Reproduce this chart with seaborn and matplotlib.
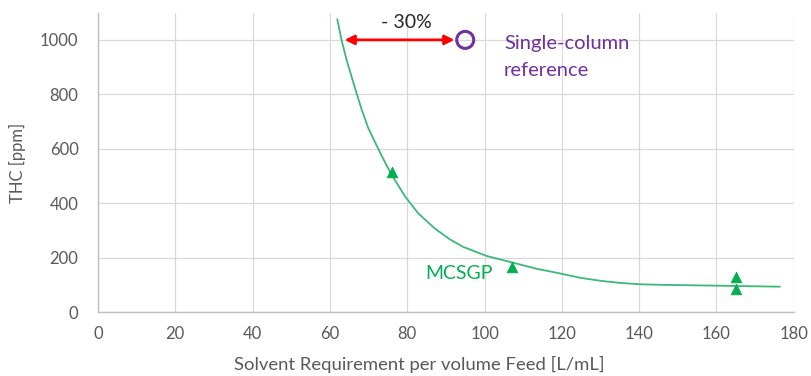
import matplotlib
matplotlib.use("Agg")
import matplotlib.pyplot as plt
import seaborn as sns
import pandas as pd

# MCSGP measurements: solvent requirement [L/mL] vs THC [ppm]
mcsgp_solvent = [76, 107, 165, 165]
mcsgp_thc = [515, 167, 128, 84]

# Trend curve through the MCSGP runs
curve_solvent = [61.9, 63.0, 64.3, 65.6, 66.9, 68.2, 69.9, 72.5, 74.7, 76.4,
                 79.4, 82.8, 87.1, 91.0, 94.5, 100.5, 107.4, 113.4, 119.4,
                 124.6, 129.8, 134.9, 140.2, 145.3, 159.0, 176.4]
curve_thc = [1076, 1000, 927, 865, 804, 745, 677, 600, 538, 495,
             426, 364, 308, 268, 240, 207, 182, 160, 143,
             127, 116, 108, 103, 101, 98, 94]

# Single-column reference run
ref_solvent = [95]
ref_thc = [1000]

x_ticks = [0, 20, 40, 60, 80, 100, 120, 140, 160, 180]
y_ticks = [0, 200, 400, 600, 800, 1000]

GREEN = "#00B050"
CURVE = "#3CB878"
PURPLE = "#7030A0"
TEXT = "#595959"
GRID = "#D9D9D9"

sns.set_theme(style="whitegrid")
plt.rcParams["font.family"] = ["Lato", "DejaVu Sans"]

fig = plt.figure(figsize=(8.11, 3.76), dpi=100)
ax = fig.add_axes([0.1208, 0.1694, 0.858, 0.797])

curve_df = pd.DataFrame({"x": curve_solvent, "y": curve_thc})
sns.lineplot(data=curve_df, x="x", y="y", sort=False, ax=ax,
             color=CURVE, linewidth=1.3, zorder=2)

pts_df = pd.DataFrame({"x": mcsgp_solvent, "y": mcsgp_thc})
sns.scatterplot(data=pts_df, x="x", y="y", ax=ax, marker="^", s=60,
                color=GREEN, edgecolor=GREEN, linewidth=0.5, zorder=3)

ref_df = pd.DataFrame({"x": ref_solvent, "y": ref_thc})
sns.scatterplot(data=ref_df, x="x", y="y", ax=ax, marker="o", s=150,
                facecolor="none", edgecolor=PURPLE, linewidth=2.2, zorder=3)

# Solvent saving arrow between the curve and the reference run
ax.annotate("", xy=(63.8, ref_thc[0]), xytext=(92.2, ref_thc[0]),
            arrowprops=dict(arrowstyle="<|-|>", color="#FF0000", lw=2,
                            mutation_scale=14, shrinkA=0, shrinkB=0),
            zorder=4)
ax.text(79.8, 1065, "- 30%", ha="center", va="center", fontsize=14,
        color="#262626")
ax.text(105, 988, "Single-column", ha="left", va="center", fontsize=14.5,
        color=PURPLE)
ax.text(105, 888, "reference", ha="left", va="center", fontsize=14.5,
        color=PURPLE)
ax.text(84.6, 142, "MCSGP", ha="left", va="center", fontsize=14,
        color=GREEN)

ax.set_xlim(0, 180)
ax.set_ylim(0, 1100)
ax.set_xticks(x_ticks)
ax.set_yticks(y_ticks)
ax.set_xticklabels([str(v) for v in x_ticks])
ax.set_yticklabels([str(v) for v in y_ticks])
ax.tick_params(axis="both", length=0, labelsize=12, colors=TEXT, pad=10)
ax.tick_params(axis="y", pad=14)

ax.set_xlabel("Solvent Requirement per volume Feed [L/mL]", fontsize=13.3,
              color=TEXT)
ax.xaxis.set_label_coords(0.462, -0.145)
ax.set_ylabel("THC [ppm]", fontsize=12, color=TEXT, labelpad=10)

ax.grid(True, color=GRID, linewidth=0.9)
ax.set_axisbelow(True)
for side in ["top", "right"]:
    ax.spines[side].set_visible(False)
for side in ["left", "bottom"]:
    ax.spines[side].set_visible(True)
    ax.spines[side].set_color("#BFBFBF")
    ax.spines[side].set_linewidth(1.0)

fig.savefig("out.png", dpi=100, facecolor="white")
